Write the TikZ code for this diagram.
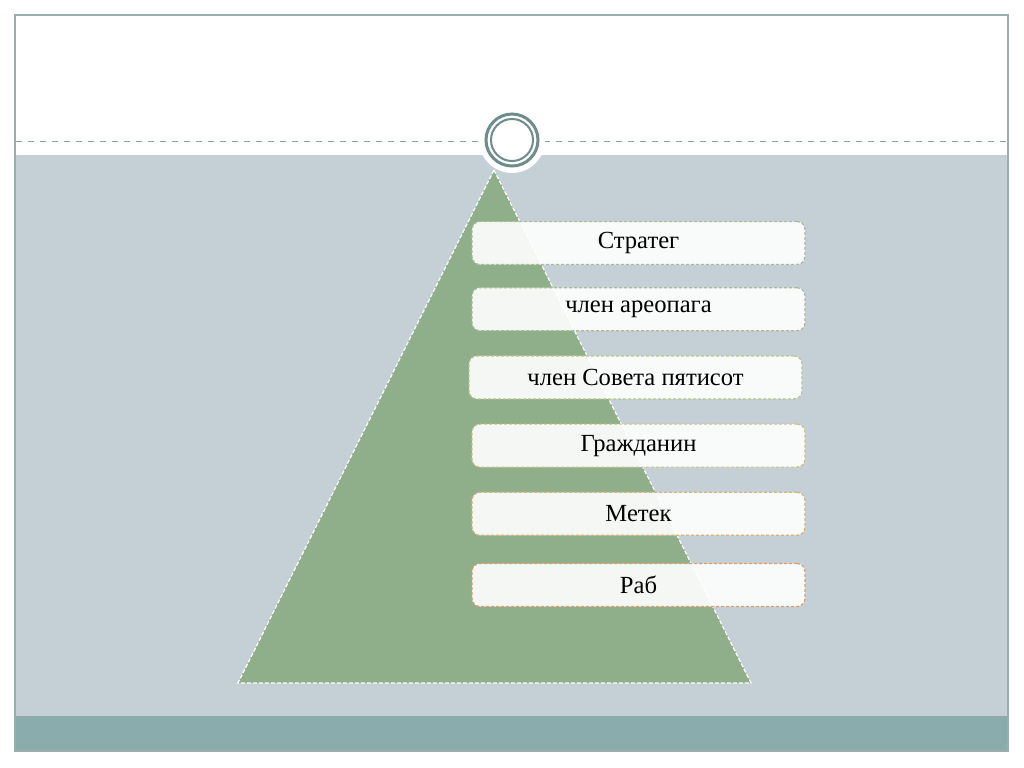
\documentclass[tikz,border=0pt]{standalone}
\usepackage{fontspec}
\setmainfont{Liberation Serif}
\usepackage{xcolor}
\usetikzlibrary{positioning}
\definecolor{bandgray}{HTML}{C5D0D6}
\definecolor{bandteal}{HTML}{8AACAC}
\definecolor{framegray}{HTML}{9AAEAE}
\definecolor{ringgray}{HTML}{6E8C8C}
\definecolor{pyrgreen}{HTML}{8FAE8A}
\definecolor{edgeA}{HTML}{A8BC98}
\definecolor{edgeB}{HTML}{B8C48C}
\definecolor{edgeC}{HTML}{C8C284}
\definecolor{edgeD}{HTML}{D2B47C}
\definecolor{edgeE}{HTML}{D8A070}
\tikzset{
  tierbox/.style={rounded corners=4pt, fill=white, fill opacity=0.9,
    text opacity=1, dash pattern=on 1.5pt off 1pt, line width=0.6pt, align=center,
    minimum width=166.5pt, minimum height=21.5pt, inner sep=0pt,
    font=\fontsize{12.3}{14}\selectfont},
  pyramid/.style={fill=pyrgreen, draw=white, dash pattern=on 2pt off 1pt, line width=0.6pt}
}
\begin{document}
\begin{tikzpicture}[x=0.5pt, y=-0.5pt, node distance=12pt and 12pt]
\useasboundingbox (0,0) rectangle (1024,767);
% slide background
\fill[white] (0,0) rectangle (1024,767);
\fill[bandgray] (15,155) rectangle (1008,716);
\fill[bandteal] (15,716) rectangle (1008,751);
\draw[framegray, line width=1pt] (15,15) rectangle (1008,751);
\draw[ringgray!80, dashed, line width=0.5pt] (16,141) -- (1007,141);

% emblem
\node[circle, fill=white, minimum size=33pt, inner sep=0pt] (emblem) at (512,140) {};
\draw[ringgray, line width=1.5pt] (emblem.center) circle[radius=13pt];
\draw[ringgray, line width=1pt] (emblem.center) circle[radius=10.5pt];

% pyramid
\coordinate (apex) at (494,170);
\coordinate (baseL) at (238,683);
\coordinate (baseR) at (751,683);
\path[pyramid] (apex) -- (baseR) -- (baseL) -- cycle;

% tiers
\node[tierbox, draw=edgeA] (strateg) at (638.5,243) {Стратег};
\node[tierbox, draw=edgeA, below=of strateg, yshift=1pt] (areop) {член ареопага};
\node[tierbox, draw=edgeB, below=of areop, xshift=-1.5pt] (boule) {член Совета пятисот};
\node[tierbox, draw=edgeC, below=of boule, xshift=1.5pt] (citizen) {Гражданин};
\node[tierbox, draw=edgeD, below=of citizen] (metic) {Метек};
\node[tierbox, draw=edgeE, below=of metic, yshift=-1.5pt] (slave) {Раб};
\end{tikzpicture}
\end{document}
